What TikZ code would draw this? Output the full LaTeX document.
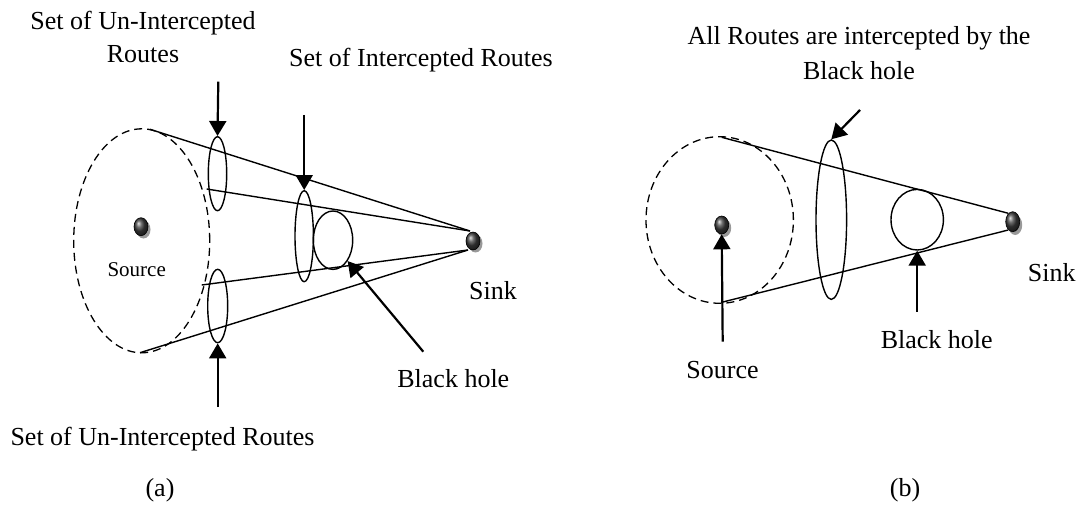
\documentclass[tikz,border=0pt]{standalone}
\usepackage{fontspec}
\setmainfont{Liberation Serif}
\usetikzlibrary{arrows.meta,shapes.geometric}
\begin{document}
\begin{tikzpicture}[x=1pt,y=-1pt,
  route/.style={line width=1.4pt},
  oval/.style={draw, ellipse, inner sep=0pt, line width=1.4pt},
  zone/.style={draw, ellipse, inner sep=0pt, line width=1.3pt, dash pattern=on 8pt off 5pt},
  ptr/.style={line width=2.2pt, -{Triangle[length=15pt,width=17pt]}},
  lbl/.style={font=\fontsize{26}{33}\selectfont, inner sep=0pt, align=center},
  small/.style={font=\fontsize{21}{25}\selectfont, inner sep=0pt},
  dot/.style={ellipse, minimum width=14pt, minimum height=18pt, inner sep=0pt,
              draw=black, line width=0.6pt, ball color=black!75},
  shade/.style={fill=black!40}
]
\useasboundingbox (0,0) rectangle (1081,508);

% ---------------- (a) ----------------
\node[zone, minimum width=136pt, minimum height=224pt] (zoneA) at (141.7,240.8) {};
\node[oval, minimum width=18.4pt, minimum height=74pt] (ua) at (217.5,173.7) {};
\node[oval, minimum width=20pt, minimum height=73.4pt] (la) at (217.7,306) {};
\node[oval, minimum width=18.4pt, minimum height=91pt] (ia) at (304.2,236.2) {};
\node[oval, minimum width=39.4pt, minimum height=58.4pt] (bha) at (333,240.2) {};

\fill[shade] (143.5,229.5) ellipse [x radius=7, y radius=9];
\node[dot] (srcA) at (141,226.7) {};
\fill[shade] (475.5,243.5) ellipse [x radius=7, y radius=9];
\node[dot] (sinkA) at (473,241) {};

\coordinate (p1) at (150,129.3);
\coordinate (p2) at (206.7,189);
\coordinate (p3) at (201.7,285);
\coordinate (p4) at (140,352.7);
\coordinate (s1) at (470,231);
\coordinate (s2) at (468,250);
\draw[route] (p1) -- (s1);
\draw[route] (p2) -- (s1);
\draw[route] (p3) -- (s2);
\draw[route] (p4) -- (s2);

\node[lbl, anchor=base] (tA) at (143,63) {Set of Un-Intercepted\\Routes};
\node[lbl, anchor=base] (iA) at (421,67) {Set of Intercepted Routes};
\node[lbl, anchor=base] (bA) at (162.5,445) {Set of Un-Intercepted Routes};
\node[small, anchor=base] (sA) at (136.7,276) {Source};
\node[lbl, anchor=base] (kA) at (493,299) {Sink};
\node[lbl, anchor=base] (hA) at (453.3,387) {Black hole};
\node[lbl, anchor=base] (capA) at (160,496) {(a)};

\coordinate (a1) at (218.3,81.7);
\coordinate (a2) at (304.2,115);
\coordinate (a3) at (217.7,407);
\coordinate (a4) at (423.3,351.7);
\draw[ptr] (a1) -- (ua.north);
\draw[ptr] (a2) -- (ia.north);
\draw[ptr] (a3) -- (la.south);
\draw[ptr] (a4) -- (bha.-55);

% ---------------- (b) ----------------
\node[zone, minimum width=147.4pt, minimum height=166.6pt] (zoneB) at (719.7,220) {};
\node[oval, minimum width=30.6pt, minimum height=159.4pt] (eb) at (831.3,219.7) {};
\node[oval, minimum width=52.4pt, minimum height=60.6pt] (bhb) at (917.2,219.7) {};

\fill[shade] (724.2,228) ellipse [x radius=7, y radius=9];
\node[dot] (srcB) at (721.7,225) {};
\fill[shade] (1015.2,225) ellipse [x radius=7, y radius=10];
\node[dot, minimum height=20pt] (sinkB) at (1012.7,221.7) {};

\coordinate (q1) at (721.7,137.3);
\coordinate (q2) at (721.7,302.3);
\coordinate (t1) at (1008.3,213.3);
\coordinate (t2) at (1008.3,230);
\draw[route] (q1) -- (t1);
\draw[route] (q2) -- (t2);

\node[lbl, anchor=base] (allB) at (859,80) {All Routes are intercepted by the\\[2pt]Black hole};
\node[lbl, anchor=base] (sB) at (722.5,378) {Source};
\node[lbl, anchor=base] (hB) at (936.7,348) {Black hole};
\node[lbl, anchor=base] (kB) at (1051.7,281.7) {Sink};
\node[lbl, anchor=base] (capB) at (905,496) {(b)};

\coordinate (b1) at (860,110);
\coordinate (b2) at (722.7,341.7);
\coordinate (b3) at (917.2,311.7);
\draw[ptr] (b1) -- (eb.north);
\draw[ptr] (b2) -- (srcB.south);
\draw[ptr] (b3) -- (bhb.south);
\end{tikzpicture}
\end{document}
